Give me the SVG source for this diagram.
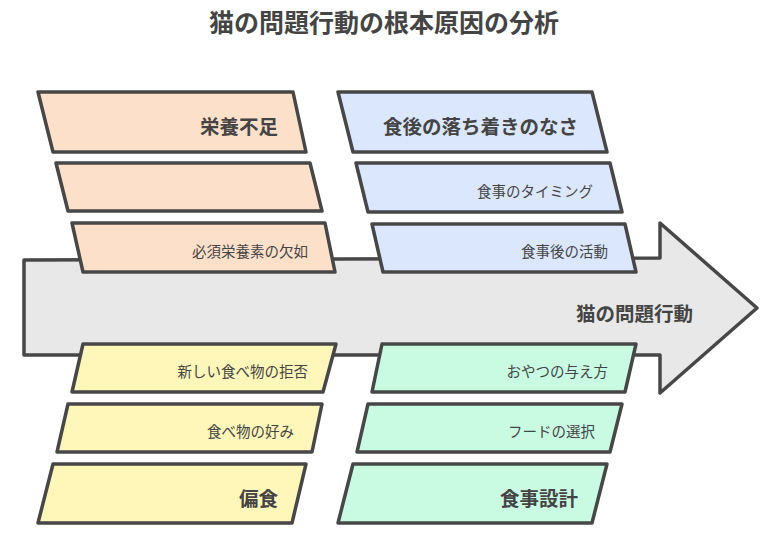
<svg xmlns="http://www.w3.org/2000/svg" width="780" height="533" viewBox="0 0 780 533">
<style>
.s{stroke:#474747;stroke-width:3.5;stroke-linejoin:round;fill:none}
.o{fill:#fde0c9}
.b{fill:#dbe7fd}
.y{fill:#fff6b9}
.g{fill:#c9fbe3}
.a{fill:#e8e8e8}
text{font-family:"Noto Sans CJK JP","Noto Sans",sans-serif;fill:#444;text-anchor:end;dominant-baseline:central}
.t{font-size:25px;font-weight:bold;text-anchor:middle}
.h{font-size:19.5px;font-weight:bold}
.l{font-size:14.5px}
</style>
<rect width="780" height="533" fill="#fff"/>
<text class="t" x="384" y="21">猫の問題行動の根本原因の分析</text>
<g id="spine">
<path class="a" d="M24,260 L660,258 L660,223 L757,308 L660,393 L660,355 L24,355 Z"/>
<path class="s" d="M24,260 L660,258 L660,223 L757,308 L660,393 L660,355 L24,355 Z"/>
<text class="h" x="693" y="312">猫の問題行動</text>
</g>
<g id="n1"><path class="o" d="M38,92 L293,92 L306,152 L53,152 Z"/><path class="s" d="M38,92 L293,92 L306,152 L53,152 Z"/><text class="h" x="278" y="125">栄養不足</text></g>
<g id="n2"><path class="o" d="M56,163 L310,163 L322,211 L68,211 Z"/><path class="s" d="M56,163 L310,163 L322,211 L68,211 Z"/></g>
<g id="n3"><path class="o" d="M72,223 L325,223 L335,272 L83,272 Z"/><path class="s" d="M72,223 L325,223 L335,272 L83,272 Z"/><text class="l" x="308" y="250">必須栄養素の欠如</text></g>
<g id="n4"><path class="b" d="M338,92 L592,92 L607,152 L353,152 Z"/><path class="s" d="M338,92 L592,92 L607,152 L353,152 Z"/><text class="h" x="578" y="125">食後の落ち着きのなさ</text></g>
<g id="n5"><path class="b" d="M356,163 L610,163 L622,212 L368,212 Z"/><path class="s" d="M356,163 L610,163 L622,212 L368,212 Z"/><text class="l" x="593" y="190">食事のタイミング</text></g>
<g id="n6"><path class="b" d="M372,224 L625,224 L636,272 L383,272 Z"/><path class="s" d="M372,224 L625,224 L636,272 L383,272 Z"/><text class="l" x="608" y="250">食事後の活動</text></g>
<g id="n7"><path class="y" d="M83,344 L336,344 L323,392 L72,392 Z"/><path class="s" d="M83,344 L336,344 L323,392 L72,392 Z"/><text class="l" x="308" y="370">新しい食べ物の拒否</text></g>
<g id="n8"><path class="y" d="M68,404 L322,404 L312,452 L57,452 Z"/><path class="s" d="M68,404 L322,404 L312,452 L57,452 Z"/><text class="l" x="294" y="430">食べ物の好み</text></g>
<g id="n9"><path class="y" d="M53,464 L306,464 L292,523 L38,523 Z"/><path class="s" d="M53,464 L306,464 L292,523 L38,523 Z"/><text class="h" x="278" y="497">偏食</text></g>
<g id="n10"><path class="g" d="M382,344 L636,344 L625,392 L372,392 Z"/><path class="s" d="M382,344 L636,344 L625,392 L372,392 Z"/><text class="l" x="608" y="370">おやつの与え方</text></g>
<g id="n11"><path class="g" d="M368,404 L622,404 L610,452 L357,452 Z"/><path class="s" d="M368,404 L622,404 L610,452 L357,452 Z"/><text class="l" x="595" y="430">フードの選択</text></g>
<g id="n12"><path class="g" d="M353,464 L607,464 L592,523 L338,523 Z"/><path class="s" d="M353,464 L607,464 L592,523 L338,523 Z"/><text class="h" x="578" y="497">食事設計</text></g>
<g id="connectors"></g>
</svg>
